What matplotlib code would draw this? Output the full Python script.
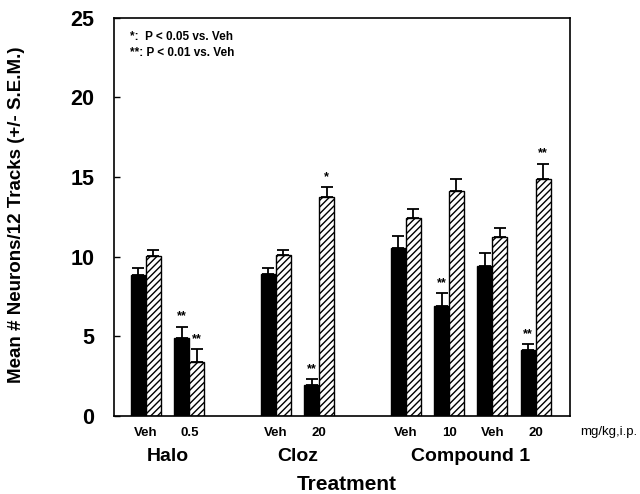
import matplotlib
matplotlib.use("Agg")
import matplotlib.pyplot as plt
import numpy as np

plt.rcParams['font.family'] = ['Liberation Sans', 'DejaVu Sans']
plt.rcParams['hatch.linewidth'] = 1.0

# Data
dose_labels = ["Veh", "0.5", "Veh", "20", "Veh", "10", "Veh", "20"]
positions = [0, 1, 3, 4, 6, 7, 8, 9]
group_labels = ["Halo", "Cloz", "Compound 1"]
group_centers = [0.5, 3.5, 7.5]

black_mean = [8.85, 4.9, 8.9, 1.95, 10.55, 6.9, 9.4, 4.15]
black_sem = [0.45, 0.7, 0.4, 0.35, 0.75, 0.8, 0.85, 0.35]
hatch_mean = [10.05, 3.4, 10.1, 13.75, 12.45, 14.1, 11.25, 14.85]
hatch_sem = [0.4, 0.8, 0.35, 0.6, 0.55, 0.8, 0.55, 1.0]

black_sig = ["", "**", "", "**", "", "**", "", "**"]
hatch_sig = ["", "**", "", "*", "", "", "", "**"]

fig = plt.figure(figsize=(6.4, 4.94), dpi=100)
ax = fig.add_axes([0.178, 0.158, 0.713, 0.806])

w = 0.345
x = np.array(positions, dtype=float)
ax.bar(x - w / 2, black_mean, width=w, color='black', edgecolor='black', linewidth=1.0, zorder=2)
ax.bar(x + w / 2, hatch_mean, width=w, color='white', edgecolor='black', hatch='/////', linewidth=1.0, zorder=2)

ax.errorbar(x - w / 2, black_mean, yerr=[np.zeros(len(x)), black_sem], fmt='none',
            ecolor='black', elinewidth=1.3, capsize=4, capthick=1.3, zorder=3)
ax.errorbar(x + w / 2, hatch_mean, yerr=[np.zeros(len(x)), hatch_sem], fmt='none',
            ecolor='black', elinewidth=1.3, capsize=4, capthick=1.3, zorder=3)

for xi, m, s, sig in zip(x - w / 2, black_mean, black_sem, black_sig):
    if sig:
        ax.annotate(sig, (xi, m + s), xytext=(0, 3), textcoords='offset points',
                    ha='center', va='bottom', fontsize=9, fontweight='bold')
for xi, m, s, sig in zip(x + w / 2, hatch_mean, hatch_sem, hatch_sig):
    if sig:
        ax.annotate(sig, (xi, m + s), xytext=(0, 3), textcoords='offset points',
                    ha='center', va='bottom', fontsize=9, fontweight='bold')

ax.set_xlim(-0.74, 9.8)
ax.set_ylim(0, 25)
ax.set_yticks([0, 5, 10, 15, 20, 25])
ax.set_yticklabels(["0", "5", "10", "15", "20", "25"], fontsize=15.5, fontweight='bold')
ax.tick_params(axis='y', direction='in', length=4, width=1, pad=14)
ax.set_xticks(x)
ax.set_xticklabels(dose_labels, fontsize=9.5, fontweight='bold')
ax.tick_params(axis='x', length=0, pad=8)
for sp in ax.spines.values():
    sp.set_linewidth(1.2)

ax.set_ylabel("Mean # Neurons/12 Tracks (+/- S.E.M.)", fontsize=13.5, fontweight='bold')
ax.yaxis.set_label_coords(-0.195, 0.505)

for gx, gl in zip(group_centers, group_labels):
    ax.text(gx, -0.103, gl, transform=ax.get_xaxis_transform(), ha='center', va='center',
            fontsize=14, fontweight='bold')
ax.text(0.51, -0.172, "Treatment", transform=ax.transAxes, ha='center', va='center',
        fontsize=15, fontweight='bold')
ax.text(1.022, -0.04, "mg/kg,i.p.", transform=ax.transAxes, ha='left', va='center',
        fontsize=9.5)

ax.text(0.035, 0.952, "*:  P < 0.05 vs. Veh", transform=ax.transAxes, ha='left', va='center',
        fontsize=8.5, fontweight='bold')
ax.text(0.035, 0.912, "**: P < 0.01 vs. Veh", transform=ax.transAxes, ha='left', va='center',
        fontsize=8.5, fontweight='bold')

fig.savefig("out.png", dpi=100)
